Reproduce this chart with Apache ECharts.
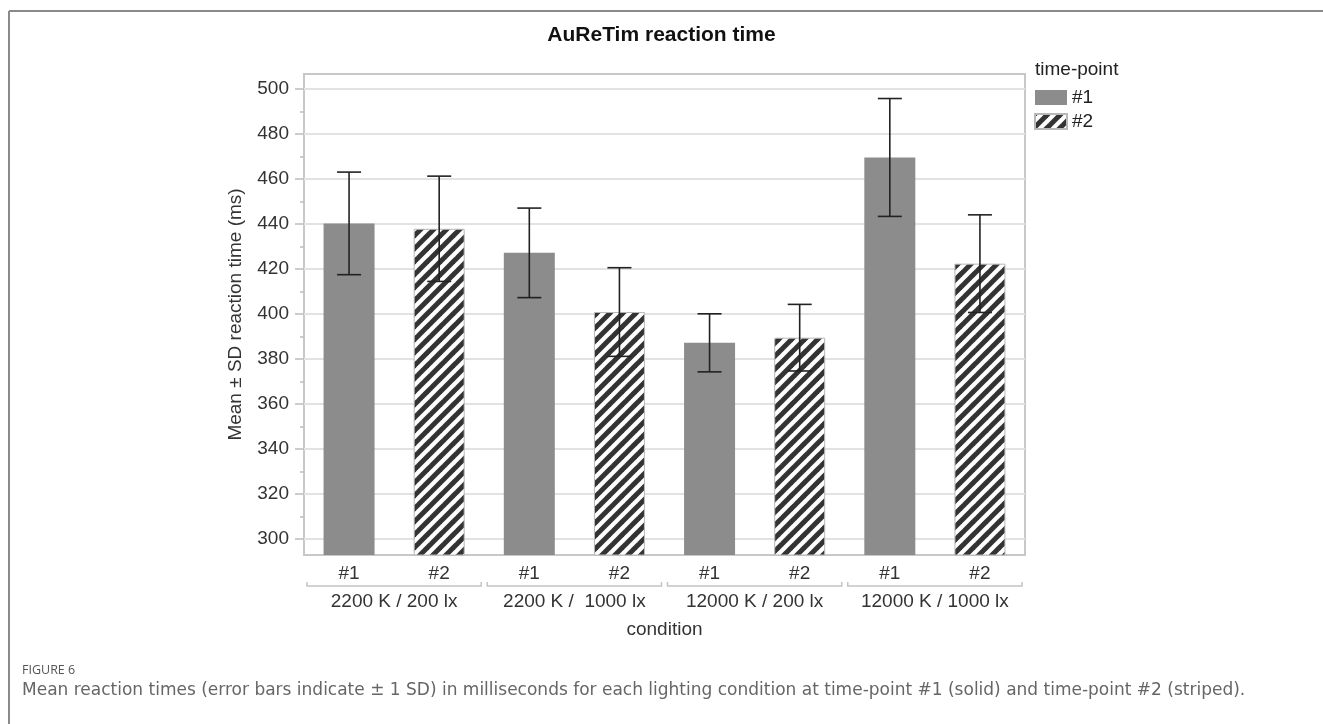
<!DOCTYPE html>
<html><head><meta charset="utf-8">
<script src="https://cdn.jsdelivr.net/npm/echarts@6/dist/echarts.min.js"></script>
<style>html,body{margin:0;padding:0;background:#fff}#c{width:1323px;height:724px}</style>
</head><body><div id="c"></div>
<script>
// ---- data ----
const conditions = ['2200 K / 200 lx', '2200 K /  1000 lx', '12000 K / 200 lx', '12000 K / 1000 lx'];
const timepoints = ['#1', '#2'];
const mean1 = [440.3, 427.2, 387.2, 469.6];
const sd1   = [22.8, 19.9, 12.9, 26.2];
const mean2 = [437.9, 400.9, 389.5, 422.4];
const sd2   = [23.4, 19.7, 14.8, 21.7];
const yTicks = [300, 320, 340, 360, 380, 400, 420, 440, 460, 480, 500];
const yMinorTicks = [310, 330, 350, 370, 390, 410, 430, 450, 470, 490];
const yMin = 292.9, yMax = 506.7;

// ---- derived ----
const cats = [];
conditions.forEach(() => timepoints.forEach(t => cats.push(t)));
const s1 = [], s2 = [], err = [];
conditions.forEach((c, i) => {
  s1.push(mean1[i], null);
  s2.push(null, mean2[i]);
  err.push([2 * i, mean1[i] - sd1[i], mean1[i] + sd1[i]]);
  err.push([2 * i + 1, mean2[i] - sd2[i], mean2[i] + sd2[i]]);
});
const brackets = conditions.map((c, i) => [i, yMin]);

// stripe pattern
const S = 13;
const pc = document.createElement('canvas');
pc.width = S; pc.height = S;
const ctx = pc.getContext('2d');
ctx.fillStyle = '#ffffff'; ctx.fillRect(0, 0, S, S);
ctx.strokeStyle = '#333333'; ctx.lineWidth = 5;
[[0, S, S, 0], [-S, S, S, -S], [0, 2 * S, 2 * S, 0]].forEach(l => {
  ctx.beginPath(); ctx.moveTo(l[0], l[1]); ctx.lineTo(l[2], l[3]); ctx.stroke();
});

const FONT = 'Liberation Sans, Arial, sans-serif';
const chart = echarts.init(document.getElementById('c'), null, { renderer: 'canvas' });
chart.setOption({
  animation: false,
  textStyle: { fontFamily: FONT },
  title: [
    { text: 'AuReTim reaction time', left: 'center', top: 20, textStyle: { fontSize: 21, fontWeight: 'bold', color: '#111', fontFamily: FONT } },
    { text: 'time-point', left: 1030, top: 55, textStyle: { fontSize: 19, fontWeight: 'normal', color: '#222', fontFamily: FONT } }
  ],
  legend: {
    data: ['#1', '#2'], orient: 'vertical', left: 1029, top: 83,
    itemWidth: 32, itemHeight: 15, itemGap: 5, icon: 'rect',
    textStyle: { fontSize: 19, color: '#222', fontFamily: FONT }
  },
  grid: { left: 304, right: 298, top: 74, bottom: 169, show: true, borderColor: '#c8c8c8', borderWidth: 2, containLabel: false },
  xAxis: [
    { type: 'category', data: cats, axisLine: { show: false }, axisTick: { show: false },
      axisLabel: { fontSize: 19, color: '#333', margin: 9, interval: 0, fontFamily: FONT } },
    { type: 'category', data: conditions, position: 'bottom', offset: 0,
      axisLine: { show: false }, axisTick: { show: false },
      axisLabel: { fontSize: 19, color: '#333', margin: 37, interval: 0, fontFamily: FONT },
      name: 'condition', nameLocation: 'middle', nameGap: 65,
      nameTextStyle: { fontSize: 19, color: '#333', fontFamily: FONT } }
  ],
  yAxis: [
    { type: 'value', min: yMin, max: yMax, splitNumber: 10, position: 'left',
      axisLine: { show: false },
      axisTick: { show: true, length: 9, customValues: yTicks, lineStyle: { color: '#bdbdbd', width: 1.5 } },
      axisLabel: { customValues: yTicks, fontSize: 19, color: '#333', margin: 15, fontFamily: FONT },
      splitLine: { show: true, lineStyle: { color: '#e2e2e2', width: 2 } },
      name: 'Mean ± SD reaction time (ms)', nameLocation: 'middle', nameGap: 59,
      nameTextStyle: { fontSize: 19, color: '#333', fontFamily: FONT } },
    { type: 'value', min: yMin, max: yMax, position: 'left', offset: 0,
      axisLine: { show: false },
      axisTick: { show: true, length: 4, customValues: yMinorTicks, lineStyle: { color: '#bdbdbd', width: 1.5 } },
      axisLabel: { show: false }, splitLine: { show: false } }
  ],
  series: [
    { name: '#1', type: 'bar', data: s1, barWidth: 51, barGap: '-100%',
      itemStyle: { color: '#8c8c8c' } },
    { name: '#2', type: 'bar', data: s2, barWidth: 51, barGap: '-100%',
      itemStyle: { color: { image: pc, repeat: 'repeat' }, borderColor: '#b8b8b8', borderWidth: 1 } },
    { name: 'err', type: 'custom', data: err, z: 10, encode: { x: 0, y: [1, 2] },
      renderItem: (params, api) => {
        const x = api.value(0);
        const lo = api.coord([x, api.value(1)]);
        const hi = api.coord([x, api.value(2)]);
        const w = 12;
        const st = { stroke: '#222', lineWidth: 1.6 };
        return { type: 'group', children: [
          { type: 'line', shape: { x1: lo[0], y1: lo[1], x2: hi[0], y2: hi[1] }, style: st },
          { type: 'line', shape: { x1: lo[0] - w, y1: lo[1], x2: lo[0] + w, y2: lo[1] }, style: st },
          { type: 'line', shape: { x1: hi[0] - w, y1: hi[1], x2: hi[0] + w, y2: hi[1] }, style: st }
        ] };
      } },
    { name: 'brackets', type: 'custom', data: brackets, clip: false, silent: true, encode: { x: 0, y: 1 },
      renderItem: (params, api) => {
        const g = api.value(0);
        const bw = api.size([1, 0])[0];
        const a = api.coord([2 * g, yMin]);
        const b = api.coord([2 * g + 1, yMin]);
        const x1 = a[0] - bw / 2 + 3, x2 = b[0] + bw / 2 - 3, y = a[1] + 31;
        return { type: 'polyline', shape: { points: [[x1, y - 4], [x1, y], [x2, y], [x2, y - 4]] },
          style: { stroke: '#c4c4c4', lineWidth: 1.5, fill: null } };
      } }
  ],
  graphic: [
    { type: 'line', shape: { x1: 9, y1: 11, x2: 1323, y2: 11 }, style: { stroke: '#8a8a8a', lineWidth: 2 } },
    { type: 'line', shape: { x1: 9, y1: 11, x2: 9, y2: 724 }, style: { stroke: '#8a8a8a', lineWidth: 2 } },
    { type: 'text', left: 22, top: 664, style: { text: 'FIGURE 6', font: '12.5px "Open Sans", sans-serif', fill: '#555' } },
    { type: 'text', left: 22, top: 682, style: { text: 'Mean reaction times (error bars indicate ± 1 SD) in milliseconds for each lighting condition at time-point #1 (solid) and time-point #2 (striped).', font: '17px "DejaVu Sans", sans-serif', fill: '#666' } }
  ]
});
</script>
</body></html>
